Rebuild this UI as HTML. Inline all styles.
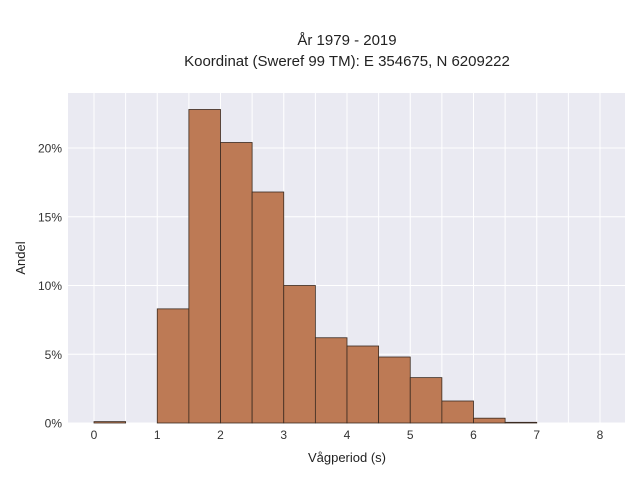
<!DOCTYPE html>
<html><head><meta charset="utf-8"><style>
body{margin:0;background:#fff;}
svg{font-family:"Liberation Sans",sans-serif;}
</style></head><body>
<svg id="c" width="640" height="480">
<text x="347" y="45" text-anchor="middle" font-size="15" fill="#222">År 1979 - 2019</text>
<text x="347" y="66" text-anchor="middle" font-size="15" fill="#222">Koordinat (Sweref 99 TM): E 354675, N 6209222</text>
<rect x="68" y="93" width="557" height="330" fill="#eaeaf2"/>
<g id="grid"></g><g id="bars"></g><g id="ticks"></g>
<text x="347" y="462" text-anchor="middle" font-size="13" fill="#222">Vågperiod (s)</text>
<text transform="translate(25,258) rotate(-90)" text-anchor="middle" font-size="13" fill="#222">Andel</text>
</svg>
<script>
const binStarts=[0,0.5,1,1.5,2,2.5,3,3.5,4,4.5,5,5.5,6,6.5];
const shares=[0.1,0,8.3,22.8,20.4,16.8,10.0,6.2,5.6,4.8,3.3,1.6,0.35,0.05];
const xTicks=[0,1,2,3,4,5,6,7,8];
const yTicks=[0,5,10,15,20];
const binWidth=0.5;
const NS="http://www.w3.org/2000/svg";
const x=v=>94+v*63.25, y=v=>423-v*13.75;
function mk(t,a,p){const e=document.createElementNS(NS,t);for(const k in a)e.setAttribute(k,a[k]);p.appendChild(e);return e;}
const g=document.getElementById('grid'),b=document.getElementById('bars'),tk=document.getElementById('ticks');
for(let v=0;v<=8;v+=0.5){const l=mk('line',{x1:x(v),x2:x(v),y1:93,y2:423,stroke:'#fff','stroke-width':1},g);

}
yTicks.forEach(v=>{const l=mk('line',{x1:68,x2:625,y1:y(v),y2:y(v),stroke:'#fff','stroke-width':1},g);


const t=mk('text',{x:62,y:y(v)+4.5,'text-anchor':'end','font-size':12,fill:'#333'},tk);t.textContent=v+'%';

});
xTicks.forEach(v=>{const t=mk('text',{x:x(v),y:439,'text-anchor':'middle','font-size':12,fill:'#333'},tk);t.textContent=v;

});
binStarts.forEach((s,i)=>{if(shares[i]<=0)return;const r=mk('rect',{x:x(s),y:y(shares[i]),width:x(s+binWidth)-x(s),height:y(0)-y(shares[i]),fill:'#bd7a55',stroke:'#3a2a20','stroke-width':0.8},b);

});
</script>
</body></html>
